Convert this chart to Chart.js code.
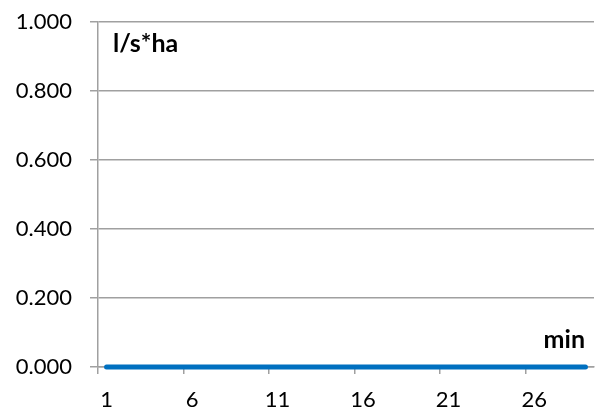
<!DOCTYPE html>
<html>
<head>
<meta charset="utf-8">
<script src="https://cdn.jsdelivr.net/npm/chart.js@4/dist/chart.umd.min.js"></script>
<style>
html,body{margin:0;padding:0;background:#fff;}
#wrap{width:601px;height:414px;}
</style>
</head>
<body>
<div id="wrap"><canvas id="c" width="601" height="414"></canvas></div>
<script>
const categories = ["1","2","3","4","5","6","7","8","9","10","11","12","13","14","15","16","17","18","19","20","21","22","23","24","25","26","27","28","29"];
const seriesValues = [0,0,0,0,0,0,0,0,0,0,0,0,0,0,0,0,0,0,0,0,0,0,0,0,0,0,0,0,0];
const yTicks = [0, 0.2, 0.4, 0.6, 0.8, 1.0];
const yTitle = "l/s*ha";
const xTitle = "min";

const fontFamily = "Lato, 'Liberation Sans', Arial, sans-serif";
const gridColor = "#a0a0a0";
const titlePlugin = {
  id: 'titles',
  afterDraw(chart) {
    const ctx = chart.ctx, a = chart.chartArea;
    ctx.save();
    ctx.fillStyle = "#000";
    ctx.font = "bold 25px " + fontFamily;
    ctx.textBaseline = "alphabetic";
    ctx.textAlign = "left";
    ctx.fillText(yTitle, a.left + 15, a.top + 30);
    ctx.textAlign = "right";
    ctx.fillText(xTitle, a.right - 9, a.bottom - 19);
    ctx.restore();
  }
};

new Chart(document.getElementById('c'), {
  type: 'line',
  data: {
    labels: categories,
    datasets: [{
      data: seriesValues,
      borderColor: "#0070C0",
      borderWidth: 5,
      borderCapStyle: 'round',
      pointRadius: 0,
      fill: false,
      tension: 0,
      clip: false
    }]
  },
  options: {
    responsive: false,
    animation: false,
    events: [],
    layout: { padding: { top: 22, right: 7, left: 0, bottom: 0 } },
    plugins: { legend: { display: false }, tooltip: { enabled: false } },
    scales: {
      x: {
        type: 'category',
        offset: true,
        grid: {
          offset: true,
          drawOnChartArea: false,
          drawTicks: true,
          tickLength: 7,
          color: (c) => (c.index % 5 === 0 ? gridColor : 'rgba(0,0,0,0)'),
          lineWidth: 1.5
        },
        border: { display: true, color: gridColor, width: 1.5 },
        ticks: {
          autoSkip: false,
          maxRotation: 0,
          minRotation: 0,
          padding: 13,
          color: "#000",
          font: { family: fontFamily, size: 22 },
          callback: (v, i) => (i % 5 === 0 ? categories[i] : '')
        },
        afterFit: (s) => { s.height = 47; s.paddingLeft = 0; s.paddingRight = 0; }
      },
      y: {
        min: 0,
        max: 1,
        afterBuildTicks: (s) => { s.ticks = yTicks.map(v => ({ value: v })); },
        grid: { color: gridColor, tickLength: 8, lineWidth: 1.5 },
        border: { display: true, color: gridColor, width: 1.5 },
        ticks: {
          padding: 18,
          color: "#000",
          font: { family: fontFamily, size: 22 },
          callback: (v) => Number(v).toFixed(3)
        },
        afterFit: (s) => { s.width = 98; s.paddingTop = 0; s.paddingBottom = 0; }
      }
    }
  },
  plugins: [titlePlugin]
});
</script>
</body>
</html>
